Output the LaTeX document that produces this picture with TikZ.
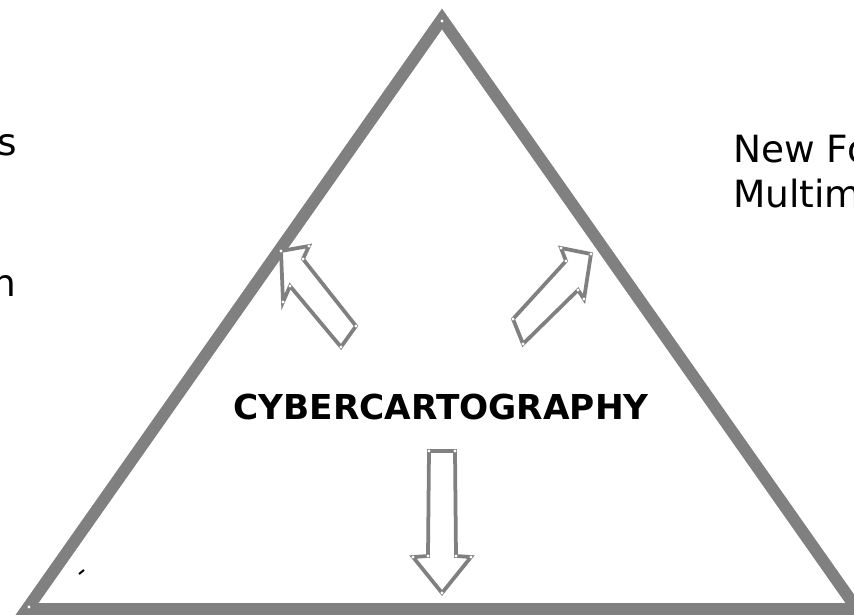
\documentclass[tikz,border=0pt]{standalone}
\usepackage{fontspec}
\setmainfont{DejaVu Sans}
\usetikzlibrary{positioning}

\begin{document}
\begin{tikzpicture}[
      x=0.03cm, y=-0.03cm,
      frame/.style={draw=gray, line width=10.2pt, line join=miter},
      blockarrow/.style={draw=gray, line width=3.2pt, fill=white, line join=miter},
      sidetext/.style={inner sep=0pt, font=\fontsize{32}{39}\selectfont},
      headline/.style={inner sep=0pt, font=\fontsize{29.3}{35}\selectfont\bfseries}
    ]
    \useasboundingbox (0,0) rectangle (854,616);

    \coordinate (apex) at (442,19);
    \coordinate (lcorner) at (27,609);
    \coordinate (rcorner) at (857,609);
    \draw[frame] (apex) -- (lcorner) -- (rcorner) -- cycle;

    \draw[blockarrow] (281,251) -- (309,246) -- (303,259) -- (356,326)
          -- (341,347) -- (290,286) -- (283,302) -- cycle;
    \draw[blockarrow] (591,254) -- (561,248) -- (566,261) -- (513,319)
          -- (523,344) -- (578,290) -- (584,299) -- cycle;
    \draw[blockarrow] (429,451) -- (455,451) -- (456,556) -- (471,557)
          -- (442,593) -- (413,557) -- (428,556) -- cycle;

    \foreach \p in {(281,251),(309,246),(303,259),(356,326),(341,347),(290,286),(283,302),
                    (591,254),(561,248),(566,261),(513,319),(523,344),(578,290),(584,299),
                    (429,451),(455,451),(456,556),(471,557),(442,593),(413,557),(428,556),
                    (442,21),(29,607)}
      \fill[white] \p circle[radius=1.3pt];

    \node[headline, anchor=base] (cyber) at (441,419) {CYBERCARTOGRAPHY};

    \node[sidetext, anchor=base east] (ltop) at (17,155) {s};
    \node[sidetext, anchor=base east] (lbottom) at (16,296) {n};
    \node[sidetext, anchor=base west] (newfo) at (733,162) {New Fo};
    \node[sidetext, anchor=base west] (multim) at (733,207) {Multim};

    \draw[line width=1.7pt] (79,574) -- (84,570);
  \end{tikzpicture}
\end{document}
